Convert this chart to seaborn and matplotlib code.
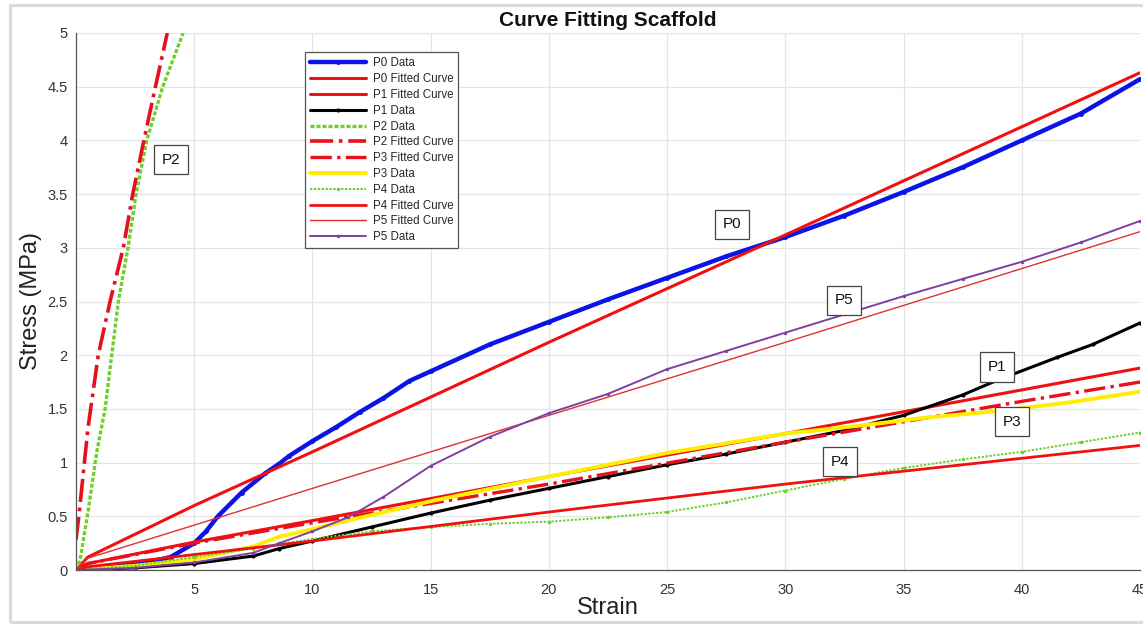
import matplotlib
matplotlib.use("Agg")
import matplotlib.pyplot as plt
import seaborn as sns
import numpy as np
from matplotlib.patches import Rectangle
from matplotlib.ticker import FuncFormatter

# ---------------- data ----------------
p0_x = [0, 1, 2, 3, 4, 5, 5.5, 6, 7, 8, 8.6, 9, 10, 11, 12, 13, 14.1, 15, 17.5, 20, 22.5, 25, 27.5, 30, 32.5, 35, 37.5, 40, 42.5, 45]
p0_y = [0, 0.02, 0.04, 0.07, 0.12, 0.25, 0.36, 0.50, 0.72, 0.90, 0.99, 1.06, 1.20, 1.33, 1.47, 1.60, 1.76, 1.85, 2.10, 2.31, 2.52, 2.72, 2.92, 3.10, 3.30, 3.52, 3.75, 4.00, 4.25, 4.57]
p0_fit_x = [0, 0.5, 5, 10, 20, 30, 45]
p0_fit_y = [0, 0.12, 0.60, 1.10, 2.12, 3.12, 4.63]

p1_fit_x = [0, 0.5, 5, 10, 20, 30, 45]
p1_fit_y = [0, 0.06, 0.26, 0.46, 0.87, 1.27, 1.88]
p1_x = [0, 2.5, 5, 7.5, 8.6, 10, 12.5, 15, 17.5, 20, 22.5, 25, 27.5, 30, 32.5, 35, 37.5, 39, 41.5, 43, 45]
p1_y = [0, 0.02, 0.06, 0.13, 0.20, 0.27, 0.40, 0.53, 0.65, 0.76, 0.87, 0.98, 1.08, 1.19, 1.30, 1.44, 1.63, 1.77, 1.98, 2.10, 2.30]

p2_x = [0, 0.17, 0.52, 0.88, 1.23, 1.51, 1.79, 2.2, 2.54, 2.99, 3.67, 4.53]
p2_y = [0, 0.09, 0.56, 1.10, 1.50, 2.00, 2.50, 3.00, 3.50, 4.00, 4.50, 5.00]
p2_fit_x = [0, 0.12, 0.5, 0.62, 0.94, 1.44, 2.0, 2.4, 2.87, 3.36, 3.86]
p2_fit_y = [0.28, 0.50, 1.31, 1.50, 2.00, 2.50, 3.00, 3.50, 4.00, 4.50, 5.00]

p3_fit_x = [0, 0.5, 5, 10, 20, 30, 40, 45]
p3_fit_y = [0, 0.06, 0.25, 0.44, 0.80, 1.19, 1.57, 1.75]
p3_x = [0, 2.5, 5, 7.5, 8.6, 10, 11.5, 15, 20, 25, 30, 33, 36, 39, 42, 45]
p3_y = [0, 0.04, 0.10, 0.22, 0.31, 0.38, 0.46, 0.64, 0.87, 1.09, 1.27, 1.34, 1.42, 1.48, 1.56, 1.66]

p4_x = [0, 2.5, 5, 7.5, 10, 12.5, 15, 17.5, 20, 22.5, 25, 27.5, 30, 32.5, 35, 37.5, 40, 42.5, 45]
p4_y = [0, 0.04, 0.12, 0.20, 0.29, 0.36, 0.40, 0.43, 0.45, 0.49, 0.54, 0.63, 0.74, 0.85, 0.95, 1.03, 1.10, 1.19, 1.28]
p4_fit_x = [0, 0.5, 10, 20, 30, 45]
p4_fit_y = [0, 0.03, 0.27, 0.54, 0.80, 1.16]

p5_fit_x = [0, 0.5, 10, 20, 30, 45]
p5_fit_y = [0, 0.11, 0.76, 1.44, 2.12, 3.15]
p5_x = [0, 2.5, 5, 7.5, 8.6, 10, 11.5, 13, 15, 17.5, 20, 22.5, 25, 27.5, 30, 32.5, 35, 37.5, 40, 42.5, 45]
p5_y = [0, 0.02, 0.07, 0.16, 0.25, 0.36, 0.49, 0.68, 0.97, 1.24, 1.46, 1.64, 1.87, 2.04, 2.21, 2.38, 2.55, 2.71, 2.87, 3.05, 3.25]

labels = ["P0", "P5", "P1", "P3", "P4", "P2"]
label_x = [27.75, 32.5, 38.96, 39.6, 32.3, 4.02]
label_y = [3.22, 2.51, 1.89, 1.38, 1.01, 3.82]

x_ticks = [5, 10, 15, 20, 25, 30, 35, 40, 45]
y_ticks = [0, 0.5, 1, 1.5, 2, 2.5, 3, 3.5, 4, 4.5, 5]

# ---------------- style ----------------
sns.set_theme(style="whitegrid")
plt.rcParams['font.family'] = ['Liberation Sans', 'DejaVu Sans']

RED = '#f01010'
fig = plt.figure(figsize=(11.43, 6.24), dpi=100)
ax = fig.add_axes([76 / 1143, 54 / 624, 1064 / 1143, 537 / 624])
ax.set_facecolor('white')

def draw(x, y, label, color, lw, ls='-', marker=None, ms=0, z=2):
    sns.lineplot(x=x, y=y, ax=ax, color=color, linewidth=lw, linestyle=ls,
                 marker=marker, markersize=ms, markeredgewidth=0,
                 label=label, sort=False, estimator=None, zorder=z)

draw(p0_x, p0_y, "P0 Data", '#0a14e6', 3.2, '-', 'o', 3.5)
draw(p0_fit_x, p0_fit_y, "P0 Fitted Curve", RED, 2.2)
draw(p1_fit_x, p1_fit_y, "P1 Fitted Curve", RED, 2.2)
draw(p1_x, p1_y, "P1 Data", 'black', 2.2, '-', 'o', 3)
draw(p2_x, p2_y, "P2 Data", '#6fcf2a', 2.4, (0, (1.2, 0.6)))
draw(p2_fit_x, p2_fit_y, "P2 Fitted Curve", '#e8101c', 2.6, '-.')
draw(p3_fit_x, p3_fit_y, "P3 Fitted Curve", '#e8101c', 2.4, '-.')
draw(p3_x, p3_y, "P3 Data", '#ffee00', 2.8)
draw(p4_x, p4_y, "P4 Data", '#6fcf2a', 1.4, (0, (1.2, 0.8)), 'o', 2.5)
draw(p4_fit_x, p4_fit_y, "P4 Fitted Curve", RED, 2.0)
draw(p5_fit_x, p5_fit_y, "P5 Fitted Curve", '#e03030', 1.0)
draw(p5_x, p5_y, "P5 Data", '#8040a0', 1.4, '-', 'o', 2.5)

for t, lx, ly in zip(labels, label_x, label_y):
    ax.text(lx, ly, t, ha='center', va='center', fontsize=11, color='#111111',
            bbox=dict(boxstyle='square,pad=0.5', facecolor='white', edgecolor='#444444', linewidth=0.9),
            zorder=5)

ax.set_xlim(0, 45)
ax.set_ylim(0, 5)
ax.set_xticks(x_ticks)
ax.set_yticks(y_ticks)
ax.yaxis.set_major_formatter(FuncFormatter(lambda v, p: f"{v:g}"))
ax.grid(True, color='#e4e4e4', linewidth=0.9)
ax.tick_params(axis='both', direction='in', length=5, width=0.8, colors='#555555',
               labelcolor='#333333', labelsize=10.5, pad=6)
ax.tick_params(axis='x', pad=9)
for s in ['top', 'right']:
    ax.spines[s].set_visible(False)
for s in ['left', 'bottom']:
    ax.spines[s].set_color('#555555')
    ax.spines[s].set_linewidth(0.9)

ax.set_xlabel("Strain", fontsize=17, color='#222222', labelpad=0)
ax.set_ylabel("Stress (MPa)", fontsize=17, color='#222222', labelpad=4)
ax.set_title("Curve Fitting Scaffold", fontsize=15, fontweight='bold', color='#111111', pad=5)

leg = ax.legend(loc='upper left', bbox_to_anchor=(0.21, 0.975), fontsize=8.3,
                handlelength=4.8, labelspacing=0.33, borderpad=0.45, handletextpad=0.6,
                frameon=True, fancybox=False, framealpha=1, edgecolor='#555555')
leg.get_frame().set_linewidth(0.9)
leg.set_zorder(6)

fig.patches.append(Rectangle((10 / 1143, 2 / 624), 1.2, 617 / 624, transform=fig.transFigure,
                             fill=False, edgecolor='#d9d9d9', linewidth=2.2, zorder=0))

fig.savefig("out.png", dpi=100, facecolor='white')
